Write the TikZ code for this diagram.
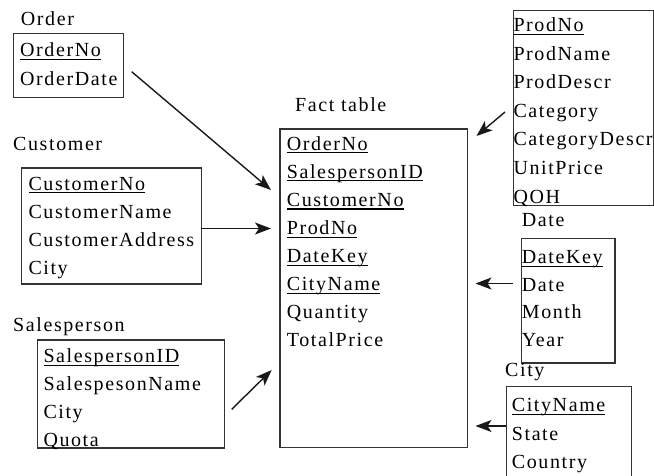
\documentclass[tikz,border=0pt]{standalone}
\usepackage{fontspec}
\setmainfont{Liberation Serif}[LetterSpace=8]
\usetikzlibrary{arrows.meta}
\newcommand\pkul[1]{\setbox0\hbox{#1}\rlap{\rule[-3.3pt]{\wd0}{1.1pt}}\box0}
\tikzset{
  tbl/.style={draw=black!80, line width=1.2pt, rectangle, inner sep=0pt, anchor=north west},
  row/.style={anchor=base west, inner sep=0pt, font=\fontsize{20}{24}\selectfont},
  lbl/.style={anchor=base west, inner sep=0pt, font=\fontsize{20}{24}\selectfont},
  arr/.style={draw=black!90, line width=1.4pt, -{Stealth[length=16pt,width=12pt,inset=4pt]}}
}
\begin{document}
\begin{tikzpicture}[x=1pt,y=-1pt]
\useasboundingbox (0,0) rectangle (654,475);
% boxes
\node[tbl, minimum width=109.7pt, minimum height=63.7pt] (order) at (13,33) {};
\node[tbl, minimum width=180pt, minimum height=116pt] (cust) at (21,167.3) {};
\node[tbl, minimum width=187.3pt, minimum height=108pt] (sales) at (36.7,339.3) {};
\node[tbl, minimum width=187.4pt, minimum height=318.7pt] (fact) at (279.3,128.3) {};
\node[tbl, minimum width=139.8pt, minimum height=195pt] (prod) at (512.7,10) {};
\node[tbl, minimum width=93.3pt, minimum height=124.6pt] (date) at (521,237.7) {};
\node[tbl, minimum width=125pt, minimum height=95pt] (city) at (506,386) {};
% labels
\node[lbl] (orderlbl) at (20.7,25) {Order};
\node[lbl] (custlbl) at (13,150) {Customer};
\node[lbl] (saleslbl) at (13,331.7) {Salesperson};
\node[lbl] (factlbl) at (295,111.7) {Fact table};
\node[lbl] (datelbl) at (521.7,226.7) {Date};
\node[lbl] (citylbl) at (505,376.7) {City};
% rows
\foreach \t [count=\i from 0] in {\pkul{OrderNo}, OrderDate}
  \node[row] (order-\i) at (20,{56.7+\i*28.3}) {\t};
\foreach \t [count=\i from 0] in {\pkul{CustomerNo}, CustomerName, CustomerAddress, City}
  \node[row] (cust-\i) at (28.3,{190+\i*28.3}) {\t};
\foreach \t [count=\i from 0] in {\pkul{SalespersonID}, SalespesonName, City, Quota}
  \node[row] (sales-\i) at (43.3,{362.7+\i*28}) {\t};
\foreach \t [count=\i from 0] in {\pkul{OrderNo}, \pkul{SalespersonID}, \pkul{CustomerNo}, \pkul{ProdNo}, \pkul{DateKey}, \pkul{CityName}, Quantity, TotalPrice}
  \node[row] (fact-\i) at (286.7,{150+\i*28.1}) {\t};
\foreach \t [count=\i from 0] in {\pkul{ProdNo}, ProdName, ProdDescr, Category, CategoryDescr, UnitPrice, QOH}
  \node[row] (prod-\i) at (513.3,{31.7+\i*28.55}) {\t};
\foreach \t [count=\i from 0] in {\pkul{DateKey}, Date, Month, Year}
  \node[row] (date-\i) at (521.7,{263.3+\i*27.8}) {\t};
\foreach \t [count=\i from 0] in {\pkul{CityName}, State, Country}
  \node[row] (city-\i) at (511.7,{411.7+\i*28.3}) {\t};
% connector ends
\coordinate (a1s) at (131.7,71.7);
\coordinate (a1e) at (271,190);
\coordinate (a2s) at (201,228.5);
\coordinate (a2e) at (271,228.5);
\coordinate (a3s) at (231.7,409.3);
\coordinate (a3e) at (271.7,370);
\coordinate (a4s) at (505,112);
\coordinate (a4e) at (476.5,136);
\coordinate (a5s) at (513.3,283.5);
\coordinate (a5e) at (475.5,283.5);
\coordinate (a6s) at (506,426);
\coordinate (a6e) at (475.5,426);
\draw[arr] (a1s) -- (a1e);
\draw[arr] (a2s) -- (a2e);
\draw[arr] (a3s) -- (a3e);
\draw[arr] (a4s) -- (a4e);
\draw[arr] (a5s) -- (a5e);
\draw[arr] (a6s) -- (a6e);
\end{tikzpicture}
\end{document}
